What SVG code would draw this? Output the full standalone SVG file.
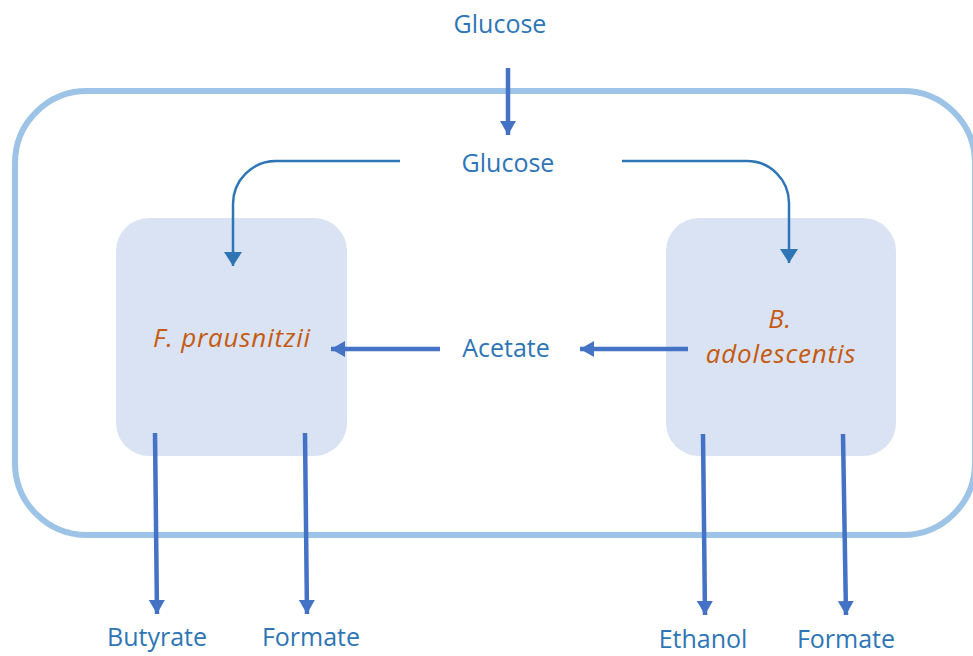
<svg xmlns="http://www.w3.org/2000/svg" width="973" height="656" viewBox="0 0 973 656">
  <style>
    .lbl { font-family: "Open Sans", "Noto Sans", sans-serif; font-size: 25px; fill: #2E75B6; text-anchor: middle; }
    .sp { font-family: "Open Sans", "Noto Sans", sans-serif; font-size: 26px; font-style: italic; letter-spacing: 0.8px; fill: #C55A11; text-anchor: middle; }
    .box { fill: #DAE3F3; }
    .thick { stroke: #4472C4; stroke-width: 4.5; fill: none; marker-end: url(#headThick); }
    .thin { stroke: #2E75B6; stroke-width: 2.5; fill: none; marker-end: url(#headThin); }
  </style>
  <defs>
    <marker id="headThick" markerUnits="userSpaceOnUse" viewBox="0 0 14 16" markerWidth="14" markerHeight="16" refX="14" refY="8" orient="auto">
      <path d="M0,0 L14,8 L0,16 Z" fill="#4472C4"/>
    </marker>
    <marker id="headThin" markerUnits="userSpaceOnUse" viewBox="0 0 14 18" markerWidth="14" markerHeight="18" refX="14" refY="9" orient="auto">
      <path d="M0,0 L14,9 L0,18 Z" fill="#2E75B6"/>
    </marker>
  </defs>

  <!-- outer compartment -->
  <rect id="compartment" x="15" y="91" width="960" height="444" rx="72" ry="72" fill="none" stroke="#9DC3E6" stroke-width="6"/>

  <!-- nodes -->
  <g id="glucose-outside">
    <text class="lbl" x="500" y="33">Glucose</text>
  </g>
  <g id="glucose-inside">
    <text class="lbl" x="508" y="172">Glucose</text>
  </g>
  <g id="f-prausnitzii">
    <rect class="box" x="116" y="218" width="231" height="238" rx="33" ry="33"/>
    <text class="sp" x="232" y="347">F.  prausnitzii</text>
  </g>
  <g id="b-adolescentis">
    <rect class="box" x="666" y="218" width="230" height="238" rx="33" ry="33"/>
    <text class="sp" x="780" y="328">B.</text>
    <text class="sp" x="781" y="363">adolescentis</text>
  </g>
  <g id="acetate">
    <text class="lbl" x="506" y="357">Acetate</text>
  </g>
  <g id="butyrate">
    <text class="lbl" x="157" y="646">Butyrate</text>
  </g>
  <g id="formate-f">
    <text class="lbl" x="311" y="646">Formate</text>
  </g>
  <g id="ethanol">
    <text class="lbl" x="703" y="648">Ethanol</text>
  </g>
  <g id="formate-b">
    <text class="lbl" x="846" y="648">Formate</text>
  </g>

  <!-- connectors -->
  <g id="connectors">
    <line class="thick" x1="508" y1="68" x2="508" y2="135"/>
    <path class="thin" d="M400,161 H276 A43,43 0 0 0 233,204 V266"/>
    <path class="thin" d="M622,161 H747 A42,42 0 0 1 789,203 V263"/>
    <line class="thick" x1="688" y1="349" x2="580" y2="349"/>
    <line class="thick" x1="440" y1="349" x2="331" y2="349"/>
    <line class="thick" x1="155" y1="433" x2="157" y2="614"/>
    <line class="thick" x1="305" y1="433" x2="307" y2="614"/>
    <line class="thick" x1="703" y1="434" x2="705" y2="615"/>
    <line class="thick" x1="843" y1="434" x2="846" y2="615"/>
  </g>
</svg>
